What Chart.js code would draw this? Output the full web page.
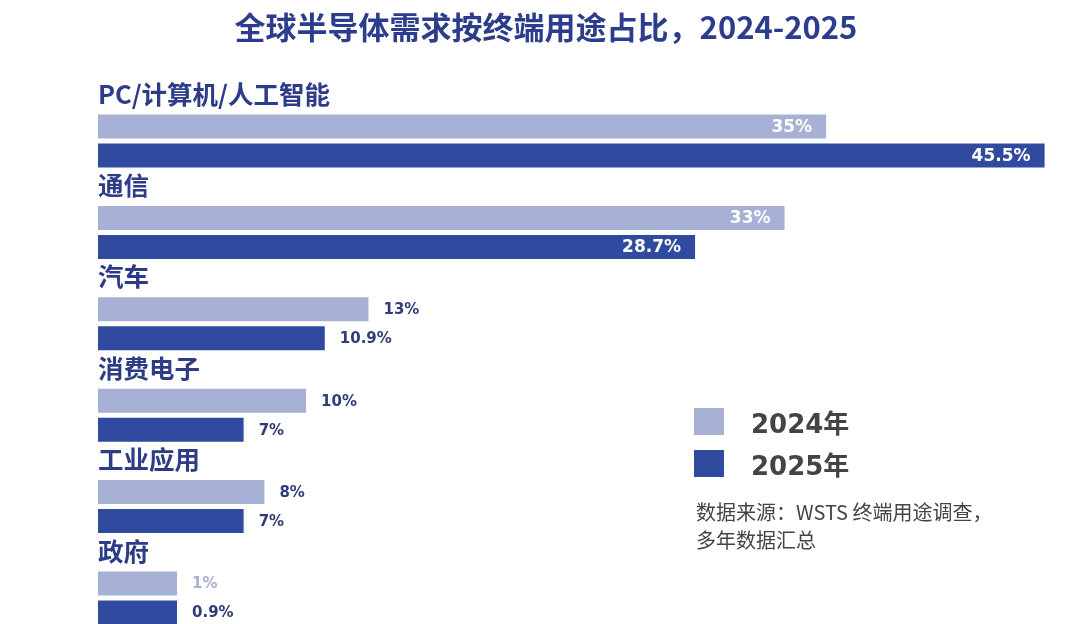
<!DOCTYPE html>
<html><head><meta charset="utf-8">
<script src="https://cdn.jsdelivr.net/npm/chart.js@4.4.0/dist/chart.umd.min.js"></script>
<style>
html,body{margin:0;padding:0;background:#fff;}
#wrap{position:relative;width:1074px;height:624px;overflow:hidden;background:#fff;}
canvas{position:absolute;left:0;top:0;}
#title{position:absolute;left:0;width:1092px;top:8px;text-align:center;font:bold 31px "Noto Sans CJK SC";color:#2b3d8c;white-space:nowrap;line-height:36px;}
#legend{position:absolute;left:694px;top:400px;}
.item{display:flex;align-items:center;height:42px;}
.sw{width:30px;height:27px;margin-right:27px;}
.lt{font:bold 26px "DejaVu Sans","Noto Sans CJK SC";color:#444;}
#source{position:absolute;left:696px;top:498px;font:20px "Noto Sans CJK SC";color:#444;line-height:28px;white-space:nowrap;}
</style></head><body>
<div id="wrap">
<canvas id="c" width="1074" height="624"></canvas>
<div id="title">全球半导体需求按终端用途占比，2024-2025</div>
<div id="legend"></div>
<div id="source">数据来源：WSTS 终端用途调查，<br>多年数据汇总</div>
</div>
<script>
const categories = ['PC/计算机/人工智能', '通信', '汽车', '消费电子', '工业应用', '政府'];
const seriesNames = ['2024年', '2025年'];
const values2024 = [35, 33, 13, 10, 8, 1];
const values2025 = [45.5, 28.7, 10.9, 7, 7, 0.9];

const barColors = ['#a7b1d5', '#2f4a9f'];
const outsideLabelColors = [
  ['#2f3c78', '#2f3c78', '#2f3c78', '#2f3c78', '#2f3c78', '#a9b0cc'],
  ['#2f3c78', '#2f3c78', '#2f3c78', '#2f3c78', '#2f3c78', '#2f3c78']
];
const insideThreshold = 20;

const labelPlugin = {
  id: 'groupLabels',
  afterDatasetsDraw(chart) {
    const { ctx, scales: { x, y } } = chart;
    ctx.save();
    ctx.textBaseline = 'middle';
    ctx.textAlign = 'left';
    ctx.font = 'bold 25.5px "Noto Sans CJK SC"';
    ctx.fillStyle = '#2c3c87';
    categories.forEach((c, i) => {
      ctx.fillText(c, x.getPixelForValue(0), y.getPixelForValue(i) - 47);
    });
    chart.data.datasets.forEach((ds, di) => {
      const meta = chart.getDatasetMeta(di);
      meta.data.forEach((bar, i) => {
        const v = ds.data[i];
        const txt = v + '%';
        if (v >= insideThreshold) {
          ctx.font = 'bold 17px "DejaVu Sans"';
          ctx.fillStyle = '#ffffff';
          ctx.textAlign = 'right';
          ctx.fillText(txt, bar.x - 14, bar.y + 1);
        } else {
          ctx.font = 'bold 15px "DejaVu Sans"';
          ctx.fillStyle = outsideLabelColors[di][i];
          ctx.textAlign = 'left';
          ctx.fillText(txt, bar.x + 15, bar.y + 1);
        }
      });
    });
    ctx.restore();
  }
};

const chart = new Chart(document.getElementById('c'), {
  type: 'bar',
  data: {
    labels: categories,
    datasets: [
      { label: seriesNames[0], data: values2024, backgroundColor: barColors[0], clip: false, minBarLength: 79 },
      { label: seriesNames[1], data: values2025, backgroundColor: barColors[1], clip: false, minBarLength: 79 }
    ]
  },
  options: {
    indexAxis: 'y',
    responsive: false,
    animation: false,
    devicePixelRatio: 1,
    categoryPercentage: 0.635,
    barPercentage: 0.828,
    layout: { padding: { left: 98, right: 19, top: 141, bottom: 26 } },
    scales: {
      x: { display: false, min: 0, max: 46, grid: { display: false } },
      y: { display: false, offset: false, grid: { display: false } }
    },
    plugins: { legend: { display: false }, title: { display: false }, tooltip: { enabled: false } }
  },
  plugins: [labelPlugin]
});

const legend = document.getElementById('legend');
chart.data.datasets.forEach(ds => {
  const item = document.createElement('div');
  item.className = 'item';
  const sw = document.createElement('div');
  sw.className = 'sw';
  sw.style.background = ds.backgroundColor;
  const t = document.createElement('div');
  t.className = 'lt';
  t.textContent = ds.label;
  item.appendChild(sw); item.appendChild(t);
  legend.appendChild(item);
});
</script>
</body></html>
